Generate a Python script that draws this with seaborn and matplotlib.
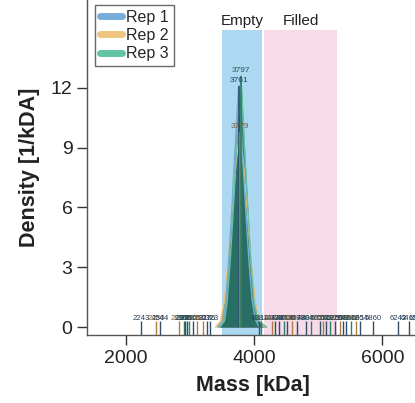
import matplotlib
matplotlib.use("Agg")
import matplotlib.pyplot as plt
from matplotlib.lines import Line2D
import seaborn as sns
import pandas as pd

# density curves (mass in kDa, density in 1/kDA)
rep1_mass = [3450, 3520, 3560, 3600, 3650, 3700, 3761, 3820, 3870, 3920, 3970, 4020, 4080]
rep1_density = [0.0, 0.3, 1.2, 3.0, 5.6, 8.6, 12.1, 8.7, 6.0, 3.4, 1.4, 0.4, 0.0]
rep2_mass = [3400, 3480, 3540, 3600, 3660, 3720, 3779, 3840, 3900, 3960, 4020, 4090, 4160]
rep2_density = [0.0, 0.3, 1.4, 3.4, 5.9, 8.2, 9.8, 8.1, 5.6, 3.1, 1.2, 0.3, 0.0]
rep3_mass = [3470, 3540, 3580, 3630, 3680, 3730, 3797, 3850, 3900, 3950, 4000, 4060, 4200]
rep3_density = [0.0, 0.3, 1.2, 3.3, 6.0, 9.0, 12.6, 9.2, 6.2, 3.4, 1.3, 0.3, 0.0]

reps = ["Rep 1", "Rep 2", "Rep 3"]
peak_mass = [3761, 3779, 3797]
peak_height = [12.1, 9.8, 12.6]

# individual events shown as a labelled rug along the baseline
rug_mass = [2243, 2480, 2544, 2830, 2906, 2921, 2961, 2992, 3055, 3107, 3213, 3276, 3323,
            4081, 4112, 4284, 4331, 4394, 4473, 4520, 4599, 4678, 4804, 4883, 5024, 5071,
            5119, 5182, 5260, 5339, 5386, 5434, 5512, 5591, 5654, 5860, 6242, 6418, 6542]
rug_rep = [1, 2, 1, 2, 3, 1, 1, 3, 1, 2, 2, 1, 1,
           1, 3, 2, 1, 1, 3, 1, 2, 1, 1, 3, 1, 2,
           1, 3, 1, 2, 1, 1, 3, 2, 1, 1, 1, 1, 1]

band_names = ["Empty", "Filled"]
band_start = [3500, 4150]
band_end = [4125, 5300]

line_colors = ["#78acd9", "#eec47f", "#62c4a4"]
fill_colors = ["#2b5f85", "#b08a45", "#22705f"]
rug_colors = ["#2d4f6c", "#b07d3a", "#2f7f6a"]
label_colors = ["#253f5c", "#7d5e33", "#24594f"]
band_colors = ["#acd8f1", "#f8dbe9"]

sns.set_theme(style="ticks")
plt.rcParams["font.family"] = ["Liberation Sans", "DejaVu Sans"]

fig = plt.figure(figsize=(4.15, 4.03), dpi=100)
ax = fig.add_axes([0.2096, 0.1687, 0.80, 0.8313])

ylo, yhi = -0.4, 16.4
ax.set_xlim(1400, 6570)
ax.set_ylim(ylo, yhi)

for name, x0, x1, c in zip(band_names, band_start, band_end, band_colors):
    ax.fill_between([x0, x1], ylo, 14.9, color=c, lw=0, zorder=0)
    ax.text((x0 + x1) / 2, 15.0, name, ha="center", va="bottom", fontsize=11, color="#222222")

curves = pd.DataFrame({
    "mass": rep1_mass + rep2_mass + rep3_mass,
    "density": rep1_density + rep2_density + rep3_density,
    "rep": ["Rep 1"] * len(rep1_mass) + ["Rep 2"] * len(rep2_mass) + ["Rep 3"] * len(rep3_mass),
})

for i in [1, 0, 2]:
    sub = curves[curves["rep"] == reps[i]]
    ax.fill_between(sub["mass"], 0, sub["density"], color=fill_colors[i], alpha=0.82, lw=0, zorder=2)
    sns.lineplot(data=sub, x="mass", y="density", color=line_colors[i], lw=1, ax=ax,
                 legend=False, zorder=3, sort=False)

for i in range(3):
    ax.vlines(peak_mass[i], 0, peak_height[i], color=rug_colors[i], lw=1.2, zorder=4)
    ax.text(peak_mass[i], peak_height[i] + 0.1, str(peak_mass[i]), ha="center", va="bottom",
            fontsize=6, color=label_colors[i], zorder=5)

for m, r in zip(rug_mass, rug_rep):
    ax.vlines(m, ylo, 0.3, color=rug_colors[r - 1], lw=1, zorder=4)
    ax.text(m, 0.42, str(m), ha="center", va="center", fontsize=5.6,
            color=label_colors[r - 1], zorder=5)

ax.set_xticks([2000, 4000, 6000])
ax.set_yticks([0, 3, 6, 9, 12])
ax.tick_params(axis="both", labelsize=14, length=7, width=1, colors="#333333", labelcolor="#222222")
sns.despine(ax=ax)
for s in ["left", "bottom"]:
    ax.spines[s].set_color("#555555")
    ax.spines[s].set_linewidth(1)

ax.set_xlabel("Mass [kDa]", fontsize=15.5, fontweight="bold", color="#222222", labelpad=6)
ax.set_ylabel("Density [1/kDA]", fontsize=15.5, fontweight="bold", color="#222222", labelpad=8)

handles = [Line2D([0], [0], color=c, lw=5) for c in line_colors]
leg = ax.legend(handles, reps, loc="upper left", bbox_to_anchor=(0.025, 0.985), fontsize=11.5,
                frameon=True, fancybox=False, handlelength=1.4, handletextpad=0.25,
                labelspacing=0.2, borderpad=0.3, borderaxespad=0)
leg.get_frame().set_edgecolor("#444444")
leg.get_frame().set_linewidth(1)

fig.savefig("out.png", dpi=100)
